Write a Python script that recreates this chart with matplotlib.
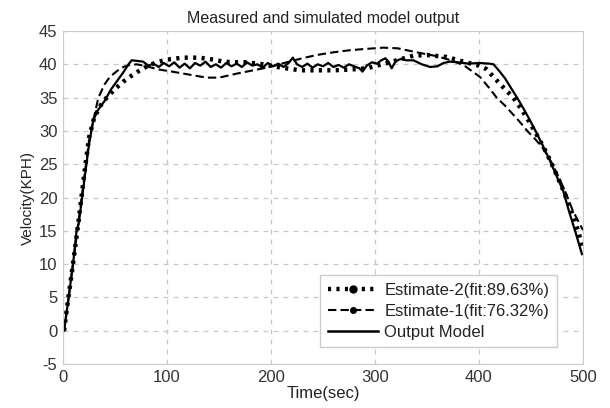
import numpy as np
import matplotlib
matplotlib.use('Agg')
import matplotlib.pyplot as plt
from matplotlib.lines import Line2D

plt.rcParams['font.family'] = ['Liberation Sans', 'DejaVu Sans']
plt.rcParams['axes.unicode_minus'] = False

# Output Model (measured)
t_out = [1, 5, 10, 13, 15, 20, 25, 29, 33, 40, 46, 52, 58, 63, 66, 72, 77, 82, 87, 92, 97, 102, 107, 112, 117,
         122, 127, 132, 137, 142, 147, 152, 157, 162, 167, 172, 177, 182, 187, 192, 197, 202, 207, 212, 217, 221,
         225, 230, 235, 240, 245, 250, 255, 260, 265, 270, 275, 280, 285, 288, 292, 297, 302, 306, 310, 313, 316,
         320, 325, 330, 337, 345, 353, 360, 366, 372, 380, 390, 400, 410, 414, 420, 425, 431, 437, 443, 449, 455,
         462, 468, 475, 481, 487, 493, 499]
v_out = [0, 4.5, 10.5, 15, 16, 22, 28, 31.5, 33, 34.5, 36.2, 37.5, 38.8, 40, 40.6, 40.5, 40.4, 39.8, 40.1, 39.6,
         40.2, 39.7, 40.3, 39.5, 40.1, 39.4, 40.2, 39.8, 40.4, 39.6, 40.0, 39.5, 40.2, 39.7, 40.1, 39.6, 40.3, 39.8,
         40.0, 39.5, 40.2, 39.7, 40.1, 39.6, 40.2, 41.0, 40.0, 39.6, 40.1, 39.5, 40.0, 39.7, 40.2, 39.6, 39.9, 39.5,
         40.0, 39.7, 39.4, 38.9, 39.8, 40.3, 40.1, 40.6, 40.9, 40.4, 39.4, 40.5, 40.8, 40.6, 40.6, 40.0, 39.6, 39.7,
         40.2, 40.4, 40.3, 40.1, 40.2, 40.1, 40.0, 38.9, 37.9, 36.4, 34.9, 33.3, 31.6, 29.8, 27.6, 25.6, 23.1, 21.0,
         17.7, 14.7, 11.5]

# Estimate-2
t_est2 = [1, 5, 10, 15, 20, 25, 30, 36, 42, 50, 58, 66, 74, 82, 90, 100, 115, 131, 145, 154, 165, 176, 192, 210,
          228, 245, 260, 275, 292, 307, 321, 337, 350, 369, 385, 400, 407, 414, 423, 433, 441, 449, 457, 465, 473,
          481, 487, 492, 497, 500]
v_est2 = [0, 4.8, 10.5, 16.5, 23, 29, 32, 33.8, 35, 36.3, 37.4, 38.3, 39.1, 39.8, 40.3, 40.7, 41.0, 41.0, 40.7,
          40.4, 40.3, 40.3, 40.0, 39.5, 39.1, 39.1, 39.1, 39.2, 39.4, 40.0, 40.6, 41.3, 41.4, 41.1, 40.4, 39.8, 39.3,
          38.1, 36.6, 35.0, 33.2, 31.2, 29.0, 26.7, 24.0, 21.1, 18.7, 16.6, 14.0, 12.2]

# Estimate-1
t_est1 = [1, 5, 10, 15, 20, 25, 29, 34, 40, 45, 52, 58, 64, 71, 80, 93, 105, 116, 127, 138, 150, 167, 183, 199,
          215, 230, 244, 260, 275, 290, 308, 322, 337, 350, 360, 373, 385, 393, 401, 409, 417, 425, 432, 439, 447,
          455, 462, 470, 478, 484, 490, 495, 500]
v_est1 = [0, 4.5, 10.5, 16.5, 22.5, 28.5, 31.5, 35, 37, 38.1, 39.0, 39.6, 39.9, 40.0, 39.7, 39.2, 38.9, 38.6,
          38.3, 38.0, 38.0, 38.6, 39.1, 39.6, 40.3, 40.9, 41.4, 41.8, 42.1, 42.3, 42.5, 42.4, 41.9, 41.5, 41.2, 40.6,
          39.9, 39.0, 38.1, 36.6, 35.0, 33.8, 32.6, 31.4, 29.9, 28.6, 27.3, 25.2, 22.6, 20.5, 18.1, 16.6, 15.1]

labels = ['Estimate-2(fit:89.63%)', 'Estimate-1(fit:76.32%)', 'Output Model']

fig = plt.figure(figsize=(6.1, 4.08), dpi=100)
ax = fig.add_axes([0.1033, 0.1078, 0.8524, 0.8162])

ax.plot(t_est2, v_est2, color='black', lw=3.2, linestyle=(0, (0.7, 1.2)))
ax.plot(t_est1, v_est1, color='black', lw=1.5, linestyle=(0, (4, 2)))
ax.plot(t_out, v_out, color='black', lw=1.6)

ax.set_xlim(0, 500)
ax.set_ylim(-5, 45)
ax.set_xticks(np.arange(0, 501, 100))
ax.set_yticks(np.arange(-5, 46, 5))
ax.grid(True, color='#c8c8c8', linestyle=(0, (4, 4)), lw=0.9)
ax.set_axisbelow(True)
for s in ax.spines.values():
    s.set_color('#cccccc')
ax.tick_params(length=0, labelsize=12, colors='#333333', pad=4)

ax.set_title('Measured and simulated model output', fontsize=11.5, color='#222222', pad=6)
ax.set_xlabel('Time(sec)', fontsize=12, color='#222222', labelpad=1)
ax.set_ylabel('Velocity(KPH)', fontsize=11, color='#222222', labelpad=3)

# legend handles with a single marker in the middle
handles = [
    Line2D([], [], color='black', lw=3.2, linestyle=(0, (0.7, 1.2)), marker='o', markersize=5),
    Line2D([], [], color='black', lw=1.5, linestyle=(0, (4, 2)), marker='o', markersize=4),
    Line2D([], [], color='black', lw=1.8),
]
leg = ax.legend(handles, labels, loc='lower right', bbox_to_anchor=(0.95, 0.051), borderaxespad=0,
                fontsize=12, fancybox=False, framealpha=1, edgecolor='#cccccc', handlelength=3.0,
                handletextpad=0.4, labelspacing=0.35, borderpad=0.45)
leg.get_frame().set_linewidth(1.0)
for txt in leg.get_texts():
    txt.set_color('#222222')

fig.savefig('out.png', dpi=100)
